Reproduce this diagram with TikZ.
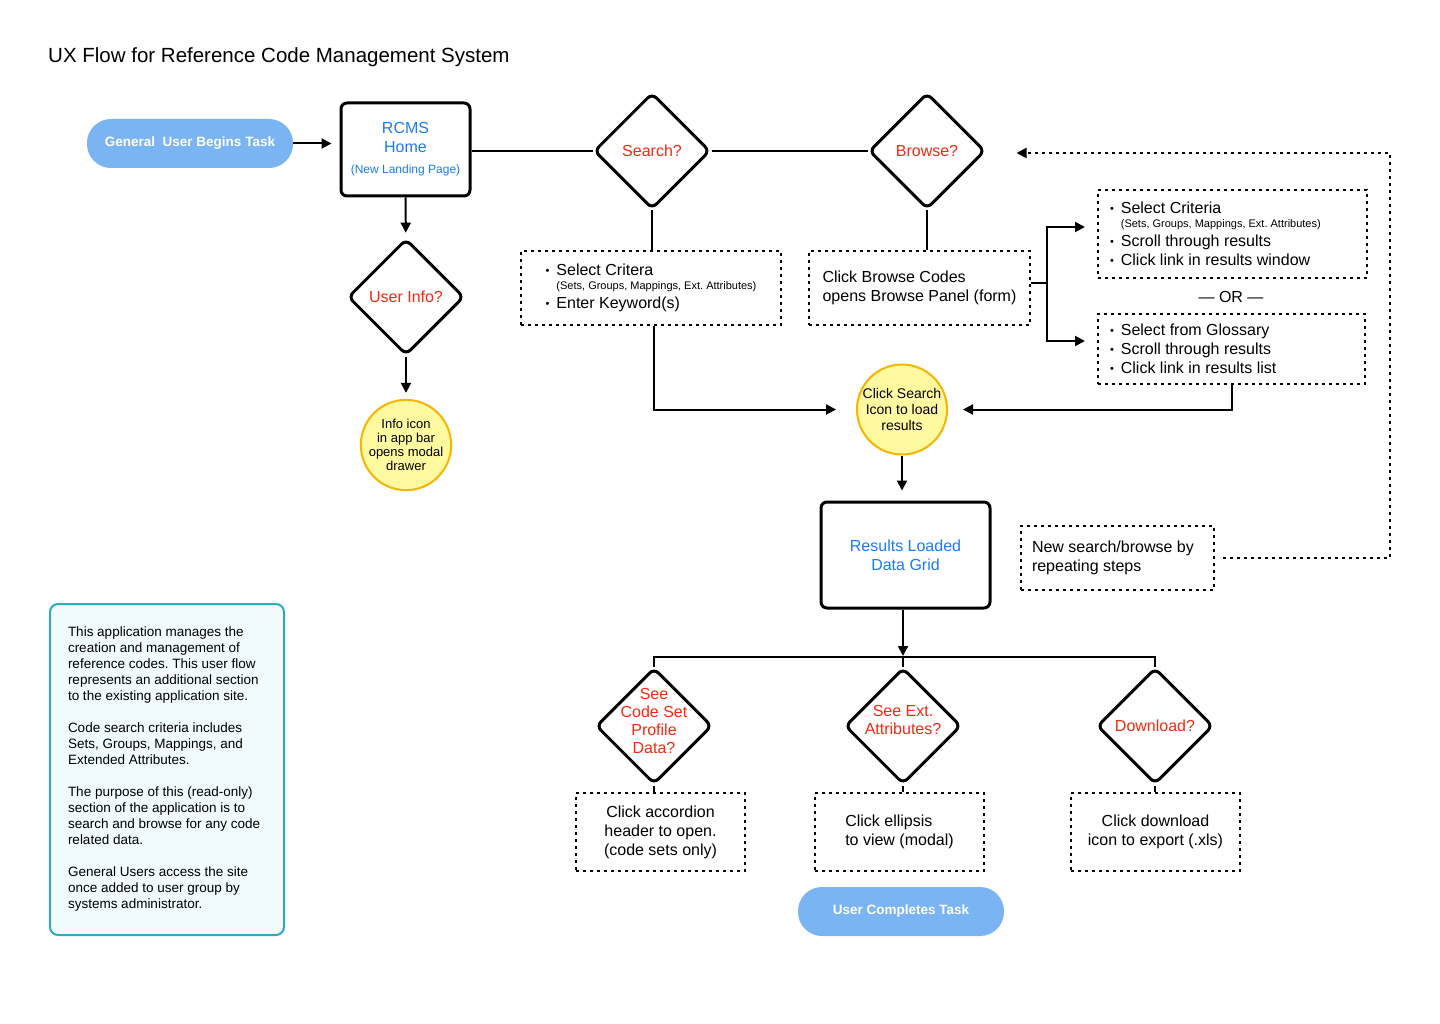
\documentclass[tikz,border=0pt]{standalone}
\usepackage{fontspec}
\setmainfont{Liberation Sans}
\frenchspacing
\usetikzlibrary{arrows.meta, shapes.geometric}
\definecolor{pillblue}{HTML}{7AB4F2}
\definecolor{linkblue}{HTML}{1A7CF5}
\definecolor{askred}{HTML}{F7290F}
\definecolor{hintyellow}{HTML}{FFF9A0}
\definecolor{hintorange}{HTML}{F8B400}
\definecolor{aboutteal}{HTML}{2EAAC6}
\definecolor{aboutbg}{HTML}{F1FBFD}
\newcommand{\fsz}[2]{\fontsize{#1}{#2}\selectfont}
\newcommand{\bul}{\raisebox{1.5pt}{\fsz{11}{11}\textbullet}\hspace{7pt}}

\tikzset{
  flow/.style={line width=2pt},
  arr/.style={flow, -{Triangle[length=10pt,width=10pt]}},
  pill/.style={fill=pillblue, rounded corners=24pt, minimum width=206pt, minimum height=49pt, text=white, font=\fsz{13.5}{16}\bfseries},
  pagebox/.style={draw, line width=3pt, rounded corners=6pt, text=linkblue, align=center, font=\fsz{16}{19}},
  askbox/.style={diamond, draw, line width=3pt, rounded corners=6pt, minimum width=116pt, minimum height=116pt, inner sep=0pt},
  asktext/.style={text=askred, align=center, font=\fsz{16}{18}, inner sep=0pt},
  hintdot/.style={circle, draw=hintorange, line width=2pt, fill=hintyellow, inner sep=0pt, minimum size=90pt, align=center},
  stepnote/.style={draw, line width=2pt, dash pattern=on 3pt off 4pt, inner sep=0pt, font=\fsz{16}{19}},
}

\begin{document}
\begin{tikzpicture}[x=1pt, y=-1pt]
        \useasboundingbox (0,0) rectangle (1440,1024);
        \fill[white] (0,0) rectangle (1440,1024);
        % Title
        \node[anchor=west, inner sep=0pt, font=\fsz{20.5}{24}] (title) at (48,57) {UX Flow for Reference Code Management System};
        % Start and home page
        \node[pill] (start) at (190,143.5) {General~ User Begins Task};
        \node[pagebox, minimum width=129pt, minimum height=93pt] (home) at (405.5,149.5) {RCMS\\Home\\[2pt]\fsz{12}{14}(New Landing Page)};
        % Decisions (top row)
        \node[askbox, label={[asktext]center:Search?}] (search) at (652,151) {};
        \node[askbox, label={[asktext]center:Browse?}] (browse) at (927,151) {};
        \node[askbox, label={[asktext]center:User Info?}] (userinfo) at (406,297) {};
        \node[hintdot, font=\fsz{13}{14}] (appbar) at (406,445) {Info icon\\in app bar\\opens modal\\drawer};
        % Search and browse steps
        \node[stepnote, minimum width=260pt, minimum height=74pt, align=left] (searchbox) at (651,288) {\bul Select Critera\\[-5pt]\phantom{\bul}{\fsz{11}{13}(Sets, Groups, Mappings, Ext. Attributes)}\\\bul Enter Keyword(s)};
        \node[stepnote, minimum width=221pt, minimum height=74pt, align=left] (browsebox) at (919.5,288) {Click Browse Codes\\opens Browse Panel (form)};
        \node[stepnote, minimum width=269pt, minimum height=88pt, text width=245pt, inner xsep=12pt, align=flush left] (critbox) at (1232.5,234) {\bul Select Criteria\\[-5pt]\phantom{\bul}{\fsz{11}{13}(Sets, Groups, Mappings, Ext. Attributes)}\\\bul Scroll through results\\\bul Click link in results window};
        \node[font=\fsz{16}{19}] (ortext) at (1231,297) {— OR —};
        \node[stepnote, minimum width=267pt, minimum height=70pt, text width=243pt, inner xsep=12pt, align=flush left] (glossbox) at (1231.5,349) {\bul Select from Glossary\\\bul Scroll through results\\\bul Click link in results list};
        % Results
        \node[hintdot, font=\fsz{14}{16}] (loadicon) at (902,409.5) {Click Search\\Icon to load\\results};
        \node[pagebox, minimum width=169pt, minimum height=106pt] (results) at (905.5,555) {Results Loaded\\Data Grid};
        \node[stepnote, minimum width=193pt, minimum height=64pt, text width=171pt, inner xsep=11pt, align=flush left] (repeatbox) at (1117.5,558) {New search/browse by\\repeating steps};
        % Decisions (bottom row)
        \node[askbox, label={[asktext, yshift=5pt]center:{See\\Code Set\\Profile\\Data?}}] (profile) at (654,726) {};
        \node[askbox, label={[asktext, yshift=6pt]center:{See Ext.\\Attributes?}}] (extattr) at (903,726) {};
        \node[askbox, label={[asktext]center:Download?}] (download) at (1155,726) {};
        \node[stepnote, minimum width=169pt, minimum height=78pt, align=center] (accbox) at (660.5,832) {Click accordion\\header to open.\\(code sets only)};
        \node[stepnote, minimum width=169pt, minimum height=78pt, align=left] (ellbox) at (899.5,832) {Click ellipsis\\to view (modal)};
        \node[stepnote, minimum width=169pt, minimum height=78pt, align=center] (dlbox) at (1155.5,832) {Click download\\icon to export (.xls)};
        \node[pill] (finish) at (901,911.5) {User Completes Task};
        % About note
        \node[draw=aboutteal, fill=aboutbg, line width=2pt, rounded corners=8pt, minimum width=234pt, minimum height=331pt, text width=198pt, inner xsep=18pt, align=flush left, font=\fsz{13.5}{16}] (about) at (167,769.5) {This application manages the\\creation and management of\\reference codes. This user flow\\represents an additional section\\to the existing application site.\\[16pt]Code search criteria includes\\Sets, Groups, Mappings, and\\Extended Attributes.\\[16pt]The purpose of this (read-only)\\section of the application is to\\search and browse for any code\\related data.\\[16pt]General Users access the site\\once added to user group by\\systems administrator.};
        % Connectors
        \coordinate (fork) at (1047,283);
        \coordinate (bus) at (903,657);
        \coordinate (loopturn) at (1390,153);
        \draw[arr, shorten >=8pt] (start.east) -- (start.east -| home.west);
        \draw[flow] (home.east |- search) -- (search);
        \draw[flow] (search) -- (browse);
        \draw[arr, shorten >=5pt] (home) -- (userinfo);
        \draw[arr, shorten >=6pt] (userinfo) -- (appbar);
        \draw[flow] (search.south) -- (search.south |- searchbox.north);
        \draw[flow] (browse.south) -- (browse.south |- browsebox.north);
        \draw[arr, shorten >=20pt] ([xshift=3pt]searchbox.south) |- (loadicon);
        \draw[arr, shorten >=15pt] (glossbox) |- (loadicon);
        \draw[flow] (browsebox.east |- fork) -- (fork);
        \draw[arr, shorten >=12pt] (fork) |- ([yshift=7pt]critbox.west);
        \draw[arr, shorten >=12pt] (fork) |- ([yshift=8pt]glossbox.west);
        \draw[arr, shorten >=10pt] (loadicon.south) -- (loadicon.south |- results.north);
        \draw[arr, shorten >=1pt] (bus |- results.south) -- (bus);
        \draw[flow] (profile.north) |- (bus) -| (download.north);
        \draw[flow] (extattr.north) -- (bus);
        \draw[flow] (profile.south) -- (profile.south |- accbox.north);
        \draw[flow] (extattr.south) -- (extattr.south |- ellbox.north);
        \draw[flow] (download.south) -- (download.south |- dlbox.north);
        \draw[arr, dash pattern=on 3pt off 4pt, shorten <=8pt, shorten >=30pt] (repeatbox.east) -| (loopturn) -- (loopturn -| browse.east);
      \end{tikzpicture}
\end{document}
